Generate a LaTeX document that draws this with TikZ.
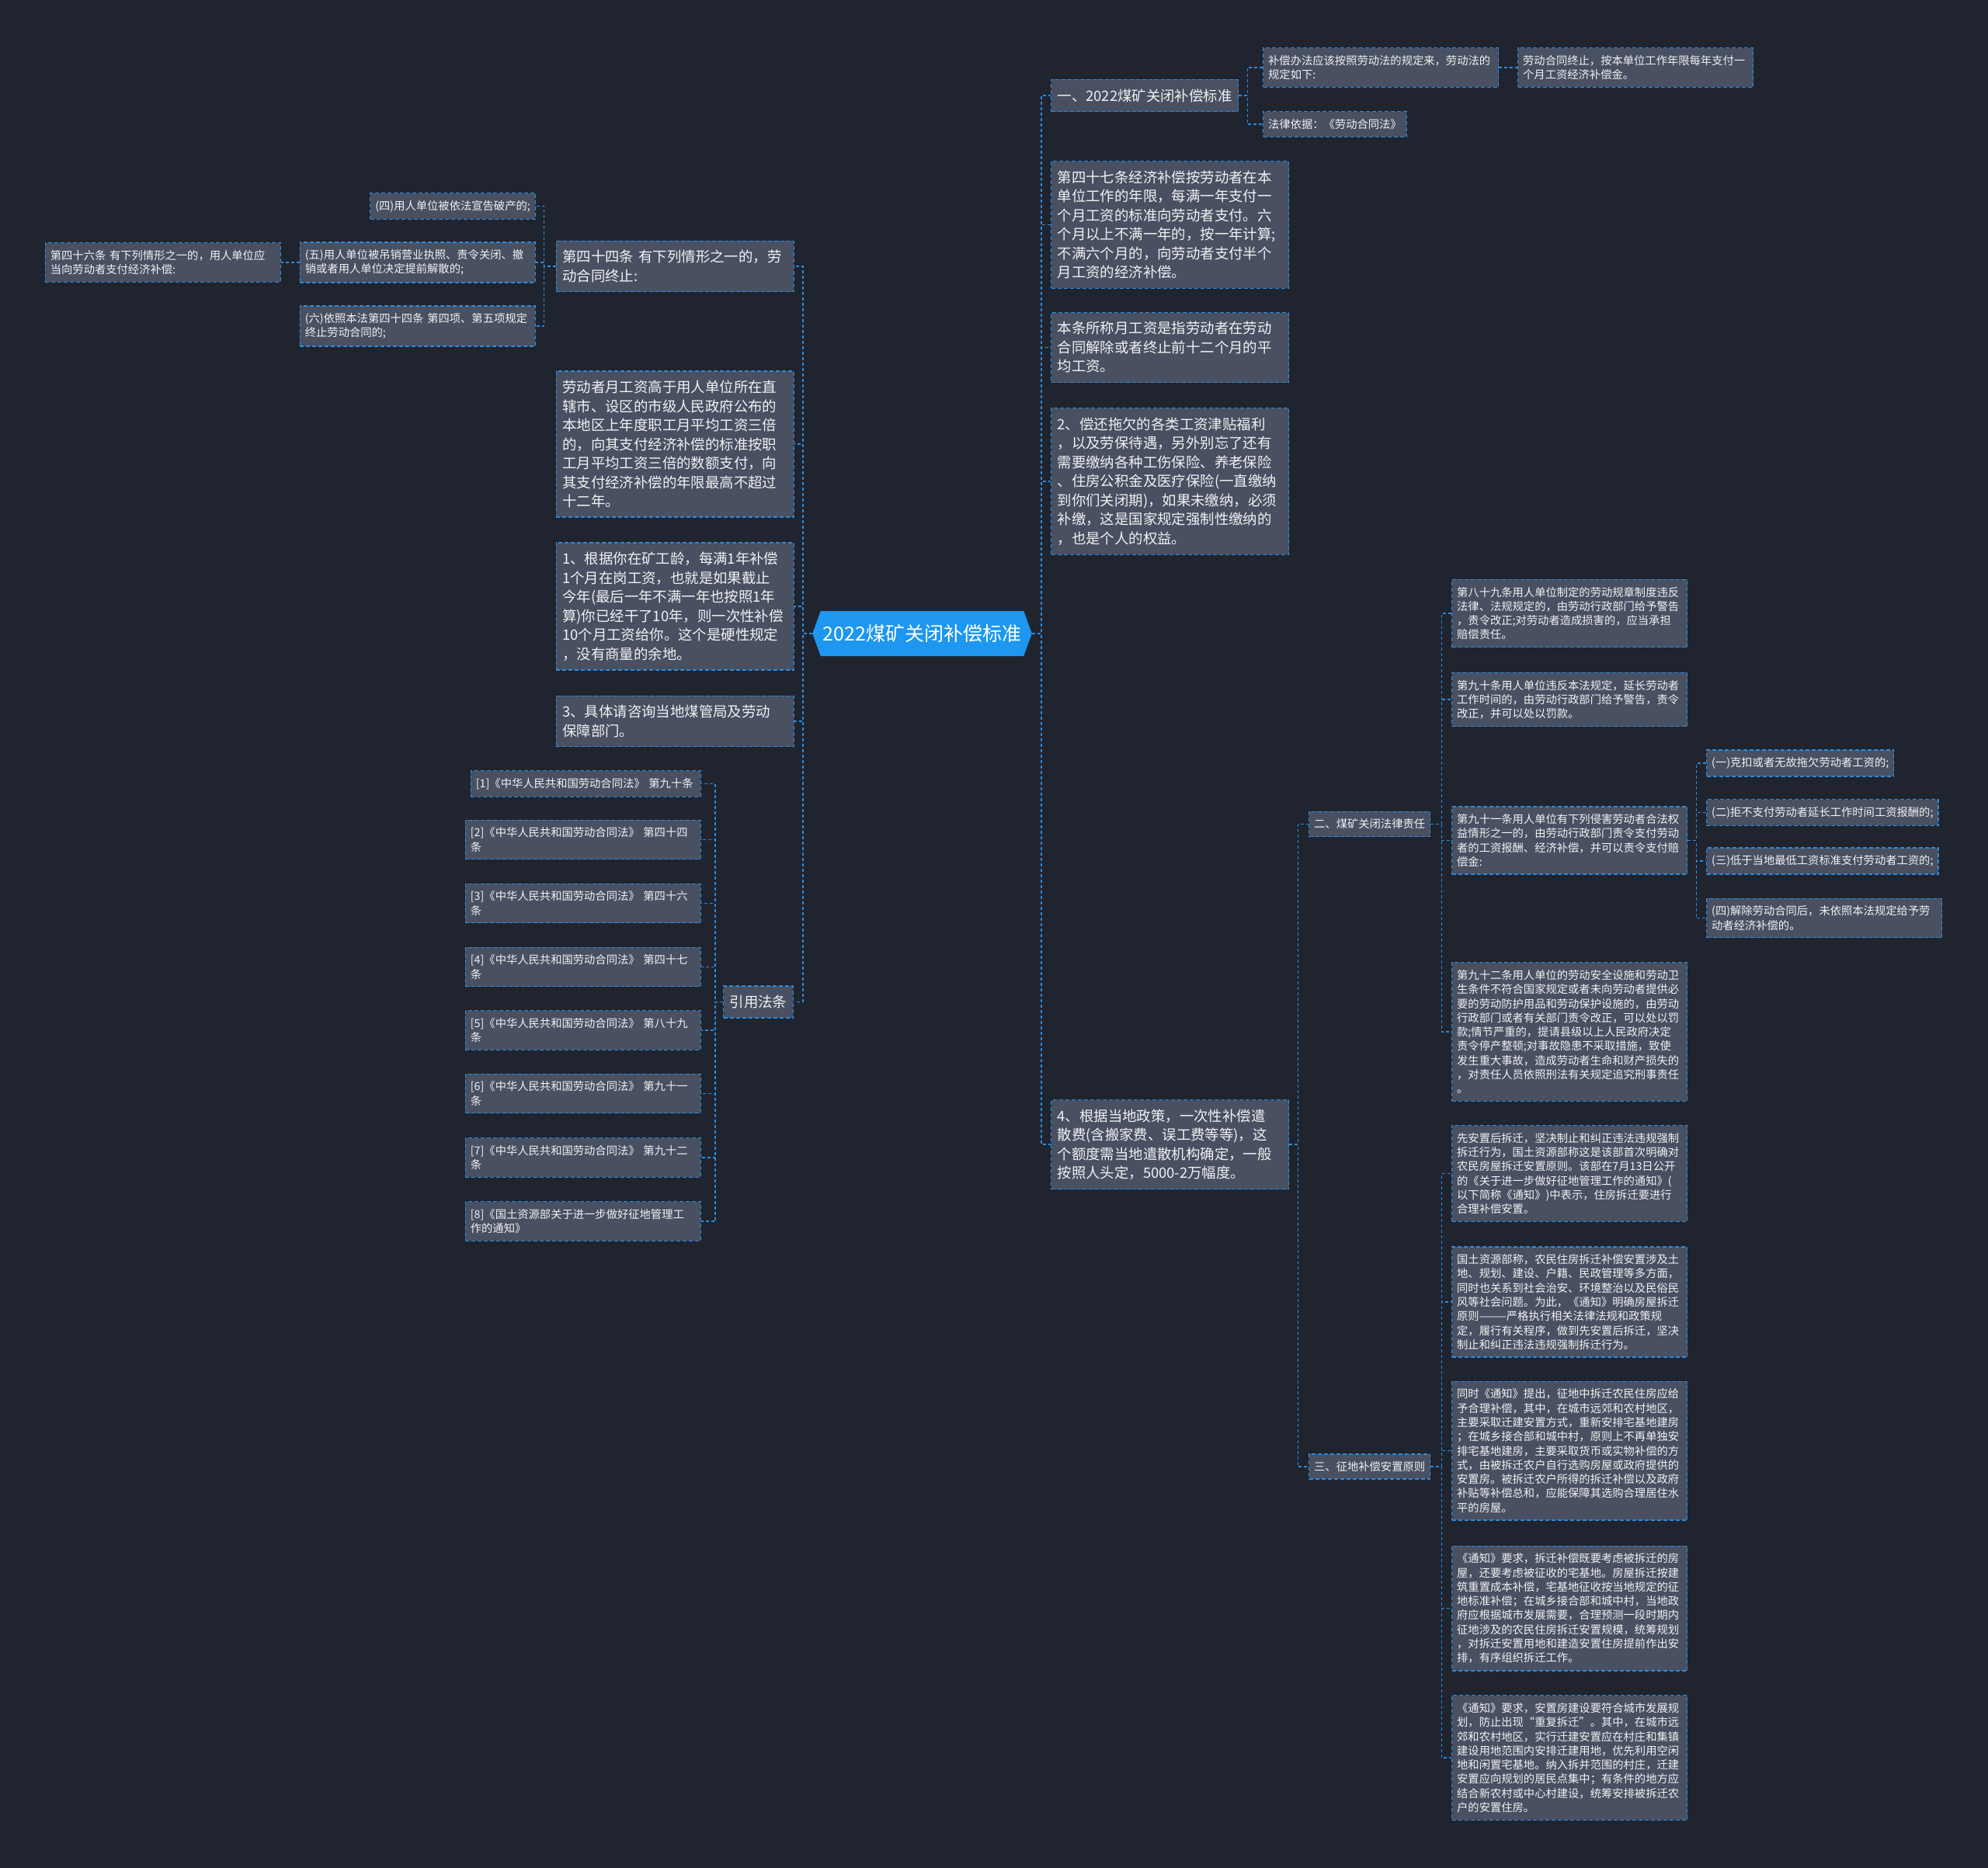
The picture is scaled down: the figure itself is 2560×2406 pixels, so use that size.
\documentclass[tikz,border=0pt]{standalone}
\usepackage{fontspec}
\setmainfont{Noto Sans CJK SC}
\usetikzlibrary{shapes.symbols}
\definecolor{bgcol}{HTML}{20242F}
\definecolor{boxfill}{HTML}{485062}
\definecolor{linecol}{HTML}{2C8BDC}
\definecolor{rootfill}{HTML}{1D97EF}
\definecolor{txtcol}{HTML}{F2F2F2}
\begin{document}
\begin{tikzpicture}[x=1pt,y=-1pt,
  box/.style={draw=linecol, fill=boxfill, dash pattern=on 5pt off 3pt, line width=1.3pt, text=txtcol, inner xsep=8pt, inner ysep=12pt, align=left, font=\fontsize{18.4}{24.5}\selectfont},
  bigbox/.style={box, text width=290pt},
  leaf/.style={box, inner xsep=6.5pt, inner ysep=9.5pt, font=\fontsize{14.3}{18.3}\selectfont},
  bigleaf/.style={leaf, text width=290pt},
  link/.style={draw=linecol, dash pattern=on 4pt off 3pt, line width=1.3pt}]
\useasboundingbox (0,0) rectangle (2560,2406);
\fill[bgcol] (0,0) rectangle (2560,2406);

% root
\node[shape=signal, signal to=east and west, signal pointer angle=140, fill=rootfill, text=white, inner xsep=3pt, minimum height=58pt, font=\fontsize{25}{30}\selectfont] (root) at (1187.5,816) {2022煤矿关闭补偿标准};

% right side
\node[box, anchor=west] (n1) at (1353,123) {一、2022煤矿关闭补偿标准};
\node[bigleaf, anchor=west] (n1a) at (1626,87) {补偿办法应该按照劳动法的规定来，劳动法的\\规定如下:};
\node[bigleaf, anchor=west] (n1c) at (1954,87) {劳动合同终止，按本单位工作年限每年支付一\\个月工资经济补偿金。};
\node[leaf, anchor=west] (n1b) at (1626,160) {法律依据：《劳动合同法》};
\node[bigbox, anchor=west] (n2) at (1353,289.5) {第四十七条经济补偿按劳动者在本\\单位工作的年限，每满一年支付一\\个月工资的标准向劳动者支付。六\\个月以上不满一年的，按一年计算;\\不满六个月的，向劳动者支付半个\\月工资的经济补偿。};
\node[bigbox, anchor=west] (n3) at (1353,447.5) {本条所称月工资是指劳动者在劳动\\合同解除或者终止前十二个月的平\\均工资。};
\node[bigbox, anchor=west] (n4) at (1353,620) {2、偿还拖欠的各类工资津贴福利\\，以及劳保待遇，另外别忘了还有\\需要缴纳各种工伤保险、养老保险\\、住房公积金及医疗保险(一直缴纳\\到你们关闭期)，如果未缴纳，必须\\补缴，这是国家规定强制性缴纳的\\，也是个人的权益。};
\node[bigbox, anchor=west] (n5) at (1353,1474) {4、根据当地政策，一次性补偿遣\\散费(含搬家费、误工费等等)，这\\个额度需当地遣散机构确定，一般\\按照人头定，5000-2万幅度。};

\node[leaf, anchor=west] (s2) at (1685,1061.5) {二、煤矿关闭法律责任};
\node[leaf, anchor=west] (s3) at (1685,1889) {三、征地补偿安置原则};

\node[bigleaf, anchor=west] (l1) at (1869,790) {第八十九条用人单位制定的劳动规章制度违反\\法律、法规规定的，由劳动行政部门给予警告\\，责令改正;对劳动者造成损害的，应当承担\\赔偿责任。};
\node[bigleaf, anchor=west] (l2) at (1869,901) {第九十条用人单位违反本法规定，延长劳动者\\工作时间的，由劳动行政部门给予警告，责令\\改正，并可以处以罚款。};
\node[bigleaf, anchor=west] (l3) at (1869,1082.5) {第九十一条用人单位有下列侵害劳动者合法权\\益情形之一的，由劳动行政部门责令支付劳动\\者的工资报酬、经济补偿，并可以责令支付赔\\偿金:};
\node[bigleaf, anchor=west] (l4) at (1869,1329) {第九十二条用人单位的劳动安全设施和劳动卫\\生条件不符合国家规定或者未向劳动者提供必\\要的劳动防护用品和劳动保护设施的，由劳动\\行政部门或者有关部门责令改正，可以处以罚\\款;情节严重的，提请县级以上人民政府决定\\责令停产整顿;对事故隐患不采取措施，致使\\发生重大事故，造成劳动者生命和财产损失的\\，对责任人员依照刑法有关规定追究刑事责任\\。};

\node[leaf, anchor=west] (m1) at (2197,983) {(一)克扣或者无故拖欠劳动者工资的;};
\node[leaf, anchor=west] (m2) at (2197,1046.5) {(二)拒不支付劳动者延长工作时间工资报酬的;};
\node[leaf, anchor=west] (m3) at (2197,1109) {(三)低于当地最低工资标准支付劳动者工资的;};
\node[bigleaf, anchor=west] (m4) at (2197,1182.5) {(四)解除劳动合同后，未依照本法规定给予劳\\动者经济补偿的。};

\node[bigleaf, anchor=west] (z1) at (1869,1511.5) {先安置后拆迁，坚决制止和纠正违法违规强制\\拆迁行为，国土资源部称这是该部首次明确对\\农民房屋拆迁安置原则。该部在7月13日公开\\的《关于进一步做好征地管理工作的通知》(\\以下简称《通知》)中表示，住房拆迁要进行\\合理补偿安置。};
\node[bigleaf, anchor=west] (z2) at (1869,1677) {国土资源部称，农民住房拆迁补偿安置涉及土\\地、规划、建设、户籍、民政管理等多方面，\\同时也关系到社会治安、环境整治以及民俗民\\风等社会问题。为此，《通知》明确房屋拆迁\\原则———严格执行相关法律法规和政策规\\定，履行有关程序，做到先安置后拆迁，坚决\\制止和纠正违法违规强制拆迁行为。};
\node[bigleaf, anchor=west] (z3) at (1869,1868.5) {同时《通知》提出，征地中拆迁农民住房应给\\予合理补偿，其中，在城市远郊和农村地区，\\主要采取迁建安置方式，重新安排宅基地建房\\；在城乡接合部和城中村，原则上不再单独安\\排宅基地建房，主要采取货币或实物补偿的方\\式，由被拆迁农户自行选购房屋或政府提供的\\安置房。被拆迁农户所得的拆迁补偿以及政府\\补贴等补偿总和，应能保障其选购合理居住水\\平的房屋。};
\node[bigleaf, anchor=west] (z4) at (1869,2071.5) {《通知》要求，拆迁补偿既要考虑被拆迁的房\\屋，还要考虑被征收的宅基地。房屋拆迁按建\\筑重置成本补偿，宅基地征收按当地规定的征\\地标准补偿；在城乡接合部和城中村，当地政\\府应根据城市发展需要，合理预测一段时期内\\征地涉及的农民住房拆迁安置规模，统筹规划\\，对拆迁安置用地和建造安置住房提前作出安\\排，有序组织拆迁工作。};
\node[bigleaf, anchor=west] (z5) at (1869,2264) {《通知》要求，安置房建设要符合城市发展规\\划，防止出现“重复拆迁”。其中，在城市远\\郊和农村地区，实行迁建安置应在村庄和集镇\\建设用地范围内安排迁建用地，优先利用空闲\\地和闲置宅基地。纳入拆并范围的村庄，迁建\\安置应向规划的居民点集中；有条件的地方应\\结合新农村或中心村建设，统筹安排被拆迁农\\户的安置住房。};

% left side
\node[bigbox, anchor=east] (a1) at (1023,343) {第四十四条~有下列情形之一的，劳\\动合同终止:};
\node[leaf, anchor=east] (a1a) at (690,265.5) {(四)用人单位被依法宣告破产的;};
\node[bigleaf, anchor=east] (a1b) at (690,338) {(五)用人单位被吊销营业执照、责令关闭、撤\\销或者用人单位决定提前解散的;};
\node[bigleaf, anchor=east] (a1c) at (690,420) {(六)依照本法第四十四条~第四项、第五项规定\\终止劳动合同的;};
\node[bigleaf, anchor=east] (a1d) at (362,338) {第四十六条~有下列情形之一的，用人单位应\\当向劳动者支付经济补偿:};
\node[bigbox, anchor=east] (a2) at (1023,572) {劳动者月工资高于用人单位所在直\\辖市、设区的市级人民政府公布的\\本地区上年度职工月平均工资三倍\\的，向其支付经济补偿的标准按职\\工月平均工资三倍的数额支付，向\\其支付经济补偿的年限最高不超过\\十二年。};
\node[bigbox, anchor=east] (a3) at (1023,781) {1、根据你在矿工龄，每满1年补偿\\1个月在岗工资，也就是如果截止\\今年(最后一年不满一年也按照1年\\算)你已经干了10年，则一次性补偿\\10个月工资给你。这个是硬性规定\\，没有商量的余地。};
\node[bigbox, anchor=east] (a4) at (1023,929) {3、具体请咨询当地煤管局及劳动\\保障部门。};
\node[box, anchor=east] (a5) at (1022,1290.5) {引用法条};

\node[bigleaf, anchor=east, text width=283pt] (r1) at (903,1009.5) {[1]《中华人民共和国劳动合同法》~第九十条};
\node[bigleaf, anchor=east] (r2) at (903,1081.5) {[2]《中华人民共和国劳动合同法》~第四十四\\条};
\node[bigleaf, anchor=east] (r3) at (903,1163.5) {[3]《中华人民共和国劳动合同法》~第四十六\\条};
\node[bigleaf, anchor=east] (r4) at (903,1245.5) {[4]《中华人民共和国劳动合同法》~第四十七\\条};
\node[bigleaf, anchor=east] (r5) at (903,1327) {[5]《中华人民共和国劳动合同法》~第八十九\\条};
\node[bigleaf, anchor=east] (r6) at (903,1408.5) {[6]《中华人民共和国劳动合同法》~第九十一\\条};
\node[bigleaf, anchor=east] (r7) at (903,1491) {[7]《中华人民共和国劳动合同法》~第九十二\\条};
\node[bigleaf, anchor=east] (r8) at (903,1573) {[8]《国土资源部关于进一步做好征地管理工\\作的通知》};

% links, right
\draw[link] (root.east) -- ++(12,0) |- (n1.west);
\draw[link] (root.east) -- ++(12,0) |- (n2.west);
\draw[link] (root.east) -- ++(12,0) |- (n3.west);
\draw[link] (root.east) -- ++(12,0) |- (n4.west);
\draw[link] (root.east) -- ++(12,0) |- (n5.west);
\draw[link] (n1.east) -- ++(11,0) |- (n1a.west);
\draw[link] (n1.east) -- ++(11,0) |- (n1b.west);
\draw[link] (n1a.east) -- (n1c.west);
\draw[link] (n5.east) -- ++(11,0) |- (s2.west);
\draw[link] (n5.east) -- ++(11,0) |- (s3.west);
\draw[link] (s2.east) -- ++(14,0) |- (l1.west);
\draw[link] (s2.east) -- ++(14,0) |- (l2.west);
\draw[link] (s2.east) -- ++(14,0) |- (l3.west);
\draw[link] (s2.east) -- ++(14,0) |- (l4.west);
\draw[link] (l3.east) -- ++(11,0) |- (m1.west);
\draw[link] (l3.east) -- ++(11,0) |- (m2.west);
\draw[link] (l3.east) -- ++(11,0) |- (m3.west);
\draw[link] (l3.east) -- ++(11,0) |- (m4.west);
\draw[link] (s3.east) -- ++(14,0) |- (z1.west);
\draw[link] (s3.east) -- ++(14,0) |- (z2.west);
\draw[link] (s3.east) -- ++(14,0) |- (z3.west);
\draw[link] (s3.east) -- ++(14,0) |- (z4.west);
\draw[link] (s3.east) -- ++(14,0) |- (z5.west);

% links, left
\draw[link] (root.west) -- ++(-12,0) |- (a1.east);
\draw[link] (root.west) -- ++(-12,0) |- (a2.east);
\draw[link] (root.west) -- ++(-12,0) |- (a3.east);
\draw[link] (root.west) -- ++(-12,0) |- (a4.east);
\draw[link] (root.west) -- ++(-12,0) |- (a5.east);
\draw[link] (a1.west) -- ++(-15,0) |- (a1a.east);
\draw[link] (a1.west) -- ++(-15,0) |- (a1b.east);
\draw[link] (a1.west) -- ++(-15,0) |- (a1c.east);
\draw[link] (a1b.west) -- (a1d.east);
\draw[link] (a5.west) -- ++(-10,0) |- (r1.east);
\draw[link] (a5.west) -- ++(-10,0) |- (r2.east);
\draw[link] (a5.west) -- ++(-10,0) |- (r3.east);
\draw[link] (a5.west) -- ++(-10,0) |- (r4.east);
\draw[link] (a5.west) -- ++(-10,0) |- (r5.east);
\draw[link] (a5.west) -- ++(-10,0) |- (r6.east);
\draw[link] (a5.west) -- ++(-10,0) |- (r7.east);
\draw[link] (a5.west) -- ++(-10,0) |- (r8.east);
\end{tikzpicture}
\end{document}
